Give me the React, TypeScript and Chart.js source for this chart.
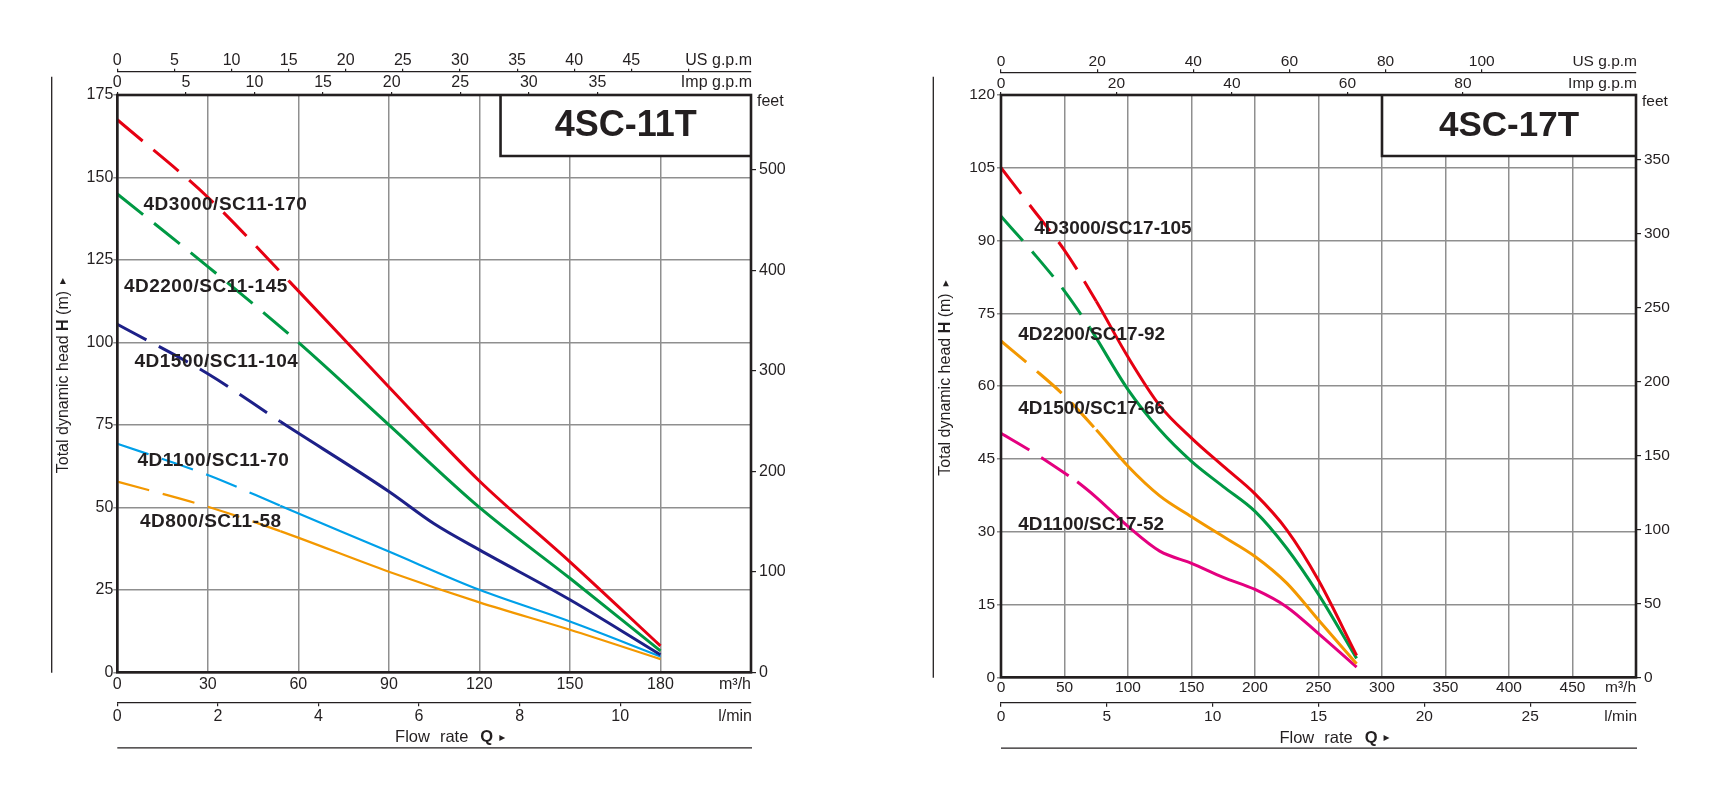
import React, { useEffect, useRef } from 'react';
import { Chart, registerables } from 'chart.js';

Chart.register(...registerables);

/* ============ DATA : 4SC-11T  (flow on main axis, head in m) ============ */
const models11 = ['4D3000/SC11-170', '4D2200/SC11-145', '4D1500/SC11-104', '4D1100/SC11-70', '4D800/SC11-58'];
const flow11_3000 = [0, 30, 57, 90, 120, 150, 180];
const head11_3000 = [167.5, 144, 118.5, 86.5, 58, 33.5, 8];
const flow11_2200 = [0, 30, 60, 90, 120, 150, 180];
const head11_2200 = [145, 123, 100, 75, 50, 28.5, 6.5];
const flow11_1500 = [0, 30, 54, 90, 105, 120, 150, 180];
const head11_1500 = [105.5, 90.5, 76, 54.8, 45, 37.1, 22, 5.3];
const flow11_1100 = [0, 30, 54, 90, 120, 150, 180];
const head11_1100 = [69.3, 59.8, 50.5, 36.6, 25, 15.4, 4.8];
const flow11_800 = [0, 30, 54, 90, 120, 150, 180];
const head11_800 = [57.8, 50.2, 42.8, 30.5, 21.2, 12.9, 4.0];
// flow where the dashed (out of recommended range) part of each curve ends
const dashedTo11 = [57, 60, 54, 54, 54];

/* ============ DATA : 4SC-17T ============ */
const models17 = ['4D3000/SC17-105', '4D2200/SC17-92', '4D1500/SC17-66', '4D1100/SC17-52'];
const flow17_3000 = [0, 25, 50, 75, 100, 125, 150, 175, 200, 225, 250, 280];
const head17_3000 = [105, 96.5, 88, 77.5, 66, 56, 49.3, 43.5, 37.8, 30.4, 20, 4.5];
const flow17_2200 = [0, 25, 50, 70, 100, 125, 150, 175, 200, 225, 250, 280];
const head17_2200 = [95, 87.6, 79.6, 72, 59.3, 51, 44.5, 39.3, 34.2, 26.6, 17.1, 3.9];
const flow17_1500 = [0, 25, 50, 75, 100, 125, 150, 175, 200, 225, 250, 280];
const head17_1500 = [69.3, 63.8, 58, 51, 43.5, 37.4, 33.1, 29, 24.9, 19.4, 11.8, 2.8];
const flow17_1100 = [0, 25, 50, 60, 75, 100, 125, 150, 175, 200, 225, 250, 280];
const head17_1100 = [50.3, 46.4, 42.1, 40.3, 37.1, 31.1, 26, 23.5, 20.6, 18.1, 14.5, 9, 2.1];
const dashedTo17 = [75, 70, 75, 60];

/* ============ STYLE ============ */
const SANS = '"Liberation Sans", Arial, Helvetica, sans-serif';
const INK = '#231f20';
const GRID = '#8f8f8f';
const DASH = [33, 14];
const RED = '#e60012';
const GREEN = '#009944';
const NAVY = '#1d2088';
const SKY = '#00a0e9';
const ORANGE = '#f39800';
const PINK = '#e4007f';

const L_PER_USGAL = 3.785411784;
const L_PER_IMPGAL = 4.54609;
const FT_PER_M = 3.28084;
const M3H_PER_LMIN = 0.06;

type Curve = { name: string; q: number[]; h: number[]; dashTo: number; color: string; width: number; at: [number, number] };

type Spec = {
  title: string; left: number; curves: Curve[];
  qMax: number; qStep: number; qLabelMax: number;
  hMax: number; hStep: number;
  usStep: number; usLabelMax: number; usTickMax: number;
  impStep: number; impLabelMax: number; impTickMax: number;
  mStep: number; mLabelMax: number;
  ftStep: number; ftLabelMax: number;
  area: { l: number; t: number; r: number; b: number };
  usH: number; impH: number; mainH: number; lminH: number; ftW: number;
  tickSize: number; mainPad: number; yPad: number;
  boxFromQ: number; boxH: number; titleSize: number;
  nameSize: number; nameSpacing: number;
  lineOffset: number; titleOffset: number;
};

const spec11: Spec = {
  title: '4SC-11T', left: 0,
  curves: [
    { name: models11[0], q: flow11_3000, h: head11_3000, dashTo: dashedTo11[0], color: RED, width: 3, at: [8.7, 141.7] },
    { name: models11[1], q: flow11_2200, h: head11_2200, dashTo: dashedTo11[1], color: GREEN, width: 3, at: [2.2, 116.8] },
    { name: models11[2], q: flow11_1500, h: head11_1500, dashTo: dashedTo11[2], color: NAVY, width: 3, at: [5.7, 94.2] },
    { name: models11[3], q: flow11_1100, h: head11_1100, dashTo: dashedTo11[3], color: SKY, width: 2.2, at: [6.7, 64] },
    { name: models11[4], q: flow11_800, h: head11_800, dashTo: dashedTo11[4], color: ORANGE, width: 2.2, at: [7.5, 45.7] },
  ],
  qMax: 210, qStep: 30, qLabelMax: 180,
  hMax: 175, hStep: 25,
  usStep: 5, usLabelMax: 45, usTickMax: 50,
  impStep: 5, impLabelMax: 35, impTickMax: 35,
  mStep: 2, mLabelMax: 10,
  ftStep: 100, ftLabelMax: 500,
  area: { l: 117.3, t: 95, r: 751, b: 672.3 },
  usH: 26.7, impH: 23.3, mainH: 30, lminH: 28, ftW: 45,
  tickSize: 16, mainPad: 4.5, yPad: 0,
  boxFromQ: 127, boxH: 61, titleSize: 36,
  nameSize: 19, nameSpacing: 0.5,
  lineOffset: 65.6, titleOffset: 54,
};

const spec17: Spec = {
  title: '4SC-17T', left: 860,
  curves: [
    { name: models17[0], q: flow17_3000, h: head17_3000, dashTo: dashedTo17[0], color: RED, width: 3, at: [26.2, 92.5] },
    { name: models17[1], q: flow17_2200, h: head17_2200, dashTo: dashedTo17[1], color: GREEN, width: 3, at: [13.6, 70.5] },
    { name: models17[2], q: flow17_1500, h: head17_1500, dashTo: dashedTo17[2], color: ORANGE, width: 3, at: [13.6, 55.4] },
    { name: models17[3], q: flow17_1100, h: head17_1100, dashTo: dashedTo17[3], color: PINK, width: 3, at: [13.6, 31.5] },
  ],
  qMax: 500, qStep: 50, qLabelMax: 450,
  hMax: 120, hStep: 15,
  usStep: 20, usLabelMax: 100, usTickMax: 100,
  impStep: 20, impLabelMax: 80, impTickMax: 80,
  mStep: 5, mLabelMax: 25,
  ftStep: 50, ftLabelMax: 350,
  area: { l: 141, t: 95, r: 776, b: 677.3 },
  usH: 26.7, impH: 22.7, mainH: 25.4, lminH: 28, ftW: 45,
  tickSize: 15.5, mainPad: 2.5, yPad: 2,
  boxFromQ: 300, boxH: 61, titleSize: 35,
  nameSize: 19, nameSpacing: 0,
  lineOffset: 67.7, titleOffset: 55,
};

const fmt = (v: number) => String(Math.round(v * 1000) / 1000);
const EPS = 1e-6;

type Run = { t: string; f: string; gap?: number };
function runsWidth(ctx: any, runs: Run[]) {
  let w = 0;
  runs.forEach((r) => { ctx.font = r.f; w += ctx.measureText(r.t).width + (r.gap || 0); });
  return w;
}
function drawRuns(ctx: any, runs: Run[], x: number, y: number) {
  let cx = x;
  runs.forEach((r) => { ctx.font = r.f; ctx.fillText(r.t, cx, y); cx += ctx.measureText(r.t).width + (r.gap || 0); });
}

function decor(s: Spec) {
  return {
    id: 'decor',
    afterDatasetsDraw(chart: any) {
      const { ctx, chartArea: a, scales } = chart;
      const xs = scales.x;
      const ys = scales.y;
      const fs = s.tickSize;
      ctx.save();
      ctx.fillStyle = INK;
      ctx.strokeStyle = INK;
      ctx.textBaseline = 'middle';

      // curve names
      ctx.textAlign = 'left';
      ctx.font = `bold ${s.nameSize}px ${SANS}`;
      ctx.letterSpacing = `${s.nameSpacing}px`;
      s.curves.forEach((c) => ctx.fillText(c.name, xs.getPixelForValue(c.at[0]), ys.getPixelForValue(c.at[1])));
      ctx.letterSpacing = '0px';

      // title box fill
      const bx = xs.getPixelForValue(s.boxFromQ);
      const by = a.top + s.boxH;
      ctx.fillStyle = '#fff';
      ctx.fillRect(bx, a.top, a.right - bx, s.boxH);

      // frame
      ctx.lineWidth = 2.6;
      ctx.strokeRect(a.left, a.top, a.right - a.left, a.bottom - a.top);
      ctx.beginPath();
      ctx.moveTo(bx, a.top);
      ctx.lineTo(bx, by);
      ctx.lineTo(a.right, by);
      ctx.stroke();

      ctx.fillStyle = INK;
      ctx.font = `bold ${s.titleSize}px ${SANS}`;
      ctx.textAlign = 'center';
      ctx.fillText(s.title, (bx + a.right) / 2, (a.top + by) / 2 + 1);

      // unit labels
      ctx.font = `${fs}px ${SANS}`;
      ctx.textAlign = 'right';
      ctx.fillText('US g.p.m', a.right + 1, scales.us.bottom - 3 - fs / 2);
      ctx.fillText('Imp g.p.m', a.right + 1, scales.imp.bottom - 4 - fs / 2);
      ctx.fillText('m³/h', a.right, xs.top + s.mainPad + fs / 2);
      ctx.fillText('l/min', a.right + 1, scales.lmin.top + 6 + fs / 2);
      ctx.textAlign = 'left';
      ctx.fillText('feet', a.right + 6, a.top + 7);

      // left rule + y title
      ctx.lineWidth = 1.3;
      const lx = a.left - s.lineOffset;
      ctx.beginPath();
      ctx.moveTo(lx, a.top - 18.3);
      ctx.lineTo(lx, a.bottom + 0.4);
      ctx.stroke();

      const yRuns: Run[] = [
        { t: 'Total dynamic head ', f: `16px ${SANS}` },
        { t: 'H', f: `bold 16px ${SANS}` },
        { t: ' (m)', f: `16px ${SANS}`, gap: 7 },
        { t: '▸', f: '12px "DejaVu Sans"' },
      ];
      ctx.save();
      ctx.translate(a.left - s.titleOffset, a.top + 0.486 * (a.bottom - a.top));
      ctx.rotate(-Math.PI / 2);
      drawRuns(ctx, yRuns, -runsWidth(ctx, yRuns) / 2, 0);
      ctx.restore();

      // flow rate caption + bottom rule
      const fRuns: Run[] = [
        { t: 'Flow', f: `16.5px ${SANS}`, gap: 10 },
        { t: 'rate', f: `16.5px ${SANS}`, gap: 12 },
        { t: 'Q', f: `bold 16.5px ${SANS}`, gap: 6 },
        { t: '▸', f: '12px "DejaVu Sans"' },
      ];
      const fw = runsWidth(ctx, fRuns);
      drawRuns(ctx, fRuns, (a.left + a.right) / 2 + 16 - fw / 2, scales.lmin.top + 35.5);
      ctx.beginPath();
      ctx.moveTo(a.left, scales.lmin.top + 45.5);
      ctx.lineTo(a.right + 1, scales.lmin.top + 45.5);
      ctx.stroke();

      ctx.restore();
    },
  };
}

function makeConfig(s: Spec): any {
  const a = s.area;
  const fs = s.tickSize;
  const font = { family: SANS, size: fs, lineHeight: 1 };
  const clear = 'rgba(0,0,0,0)';
  const W = 860;
  const H = 800;

  const datasets = s.curves.map((c) => ({
    label: c.name,
    data: c.q.map((q, i) => ({ x: q, y: c.h[i] })),
    borderColor: c.color,
    backgroundColor: c.color,
    borderWidth: c.width,
    pointRadius: 0,
    fill: false,
    cubicInterpolationMode: 'monotone',
    borderCapStyle: 'butt',
    xAxisID: 'x',
    yAxisID: 'y',
    segment: {
      borderDash: (ctx: any) => (c.q[ctx.p1DataIndex] <= c.dashTo + EPS ? DASH : undefined),
    },
  }));

  return {
    type: 'line',
    data: { datasets },
    options: {
      animation: false,
      responsive: true,
      maintainAspectRatio: false,
      events: [],
      layout: {
        autoPadding: false,
        padding: {
          left: 0,
          top: a.t - s.impH - s.usH,
          right: W - a.r - s.ftW,
          bottom: H - a.b - s.mainH - s.lminH,
        },
      },
      plugins: { legend: { display: false }, tooltip: { enabled: false }, title: { display: false } },
      scales: {
        x: {
          type: 'linear', position: 'bottom', weight: 1, min: 0, max: s.qMax,
          afterFit: (sc: any) => { sc.height = s.mainH; },
          border: { display: false },
          grid: { color: GRID, lineWidth: 1.5, drawTicks: false },
          ticks: {
            stepSize: s.qStep, autoSkip: false, maxRotation: 0, padding: s.mainPad, color: INK, font,
            callback: (v: number) => (v <= s.qLabelMax + EPS ? fmt(v) : ''),
          },
        },
        lmin: {
          type: 'linear', position: 'bottom', weight: 2, min: 0, max: s.qMax * M3H_PER_LMIN,
          afterFit: (sc: any) => { sc.height = s.lminH; },
          border: { display: true, color: INK, width: 1.3 },
          grid: {
            drawOnChartArea: false, drawTicks: true, tickLength: 4, lineWidth: 1.2,
            tickColor: (ctx: any) => (ctx.tick && ctx.tick.value <= s.mLabelMax + EPS ? INK : clear),
          },
          ticks: {
            stepSize: s.mStep, includeBounds: false, autoSkip: false, maxRotation: 0, padding: 2, color: INK, font,
            callback: (v: number) => (v <= s.mLabelMax + EPS ? fmt(v) : ''),
          },
        },
        imp: {
          type: 'linear', position: 'top', weight: 1, min: 0, max: s.qMax / L_PER_IMPGAL,
          afterFit: (sc: any) => { sc.height = s.impH; },
          border: { display: false },
          grid: {
            drawOnChartArea: false, drawTicks: true, tickLength: 3, lineWidth: 1.2,
            tickColor: (ctx: any) => (ctx.tick && ctx.tick.value <= s.impTickMax + EPS ? INK : clear),
          },
          ticks: {
            stepSize: s.impStep, includeBounds: false, autoSkip: false, maxRotation: 0, padding: 1, color: INK, font,
            callback: (v: number) => (v <= s.impLabelMax + EPS ? fmt(v) : ''),
          },
        },
        us: {
          type: 'linear', position: 'top', weight: 2, min: 0, max: s.qMax / L_PER_USGAL,
          afterFit: (sc: any) => { sc.height = s.usH; },
          border: { display: true, color: INK, width: 1.3 },
          grid: {
            drawOnChartArea: false, drawTicks: true, tickLength: 3, lineWidth: 1.2,
            tickColor: (ctx: any) => (ctx.tick && ctx.tick.value <= s.usTickMax + EPS ? INK : clear),
          },
          ticks: {
            stepSize: s.usStep, includeBounds: false, autoSkip: false, maxRotation: 0, padding: 0, color: INK, font,
            callback: (v: number) => (v <= s.usLabelMax + EPS ? fmt(v) : ''),
          },
        },
        y: {
          type: 'linear', position: 'left', min: 0, max: s.hMax,
          afterFit: (sc: any) => { sc.width = a.l; },
          border: { display: false },
          grid: { color: GRID, lineWidth: 1.5, drawTicks: true, tickLength: 4 },
          ticks: { stepSize: s.hStep, autoSkip: false, padding: s.yPad, color: INK, font },
        },
        ft: {
          type: 'linear', position: 'right', min: 0, max: s.hMax * FT_PER_M,
          afterFit: (sc: any) => { sc.width = s.ftW; },
          border: { display: false },
          grid: { drawOnChartArea: false, drawTicks: true, tickLength: 5, lineWidth: 1.2, color: INK },
          ticks: {
            stepSize: s.ftStep, includeBounds: false, autoSkip: false, padding: 3, color: INK, font,
            callback: (v: number) => (v <= s.ftLabelMax + EPS ? fmt(v) : ''),
          },
        },
      },
    },
    plugins: [decor(s)],
  };
}

function PumpChart({ spec }: { spec: Spec }) {
  const ref = useRef<HTMLCanvasElement>(null);
  useEffect(() => {
    if (!ref.current) return;
    const chart = new Chart(ref.current, makeConfig(spec));
    return () => chart.destroy();
  }, [spec]);
  return (
    <div style={{ position: 'absolute', left: spec.left, top: 0, width: 860, height: 800 }}>
      <canvas ref={ref} style={{ display: 'block' }} />
    </div>
  );
}

export default function App() {
  return (
    <div style={{ position: 'absolute', left: 0, top: 0, width: 1720, height: 800, background: '#fff', overflow: 'hidden' }}>
      <PumpChart spec={spec11} />
      <PumpChart spec={spec17} />
    </div>
  );
}
